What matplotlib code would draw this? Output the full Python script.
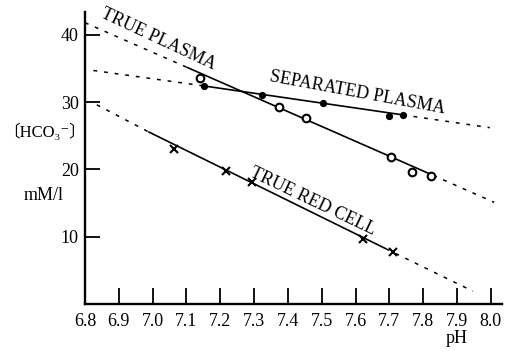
import matplotlib
matplotlib.use("Agg")
import matplotlib.pyplot as plt

# ---- data ----
xticks = [6.8, 6.9, 7.0, 7.1, 7.2, 7.3, 7.4, 7.5, 7.6, 7.7, 7.8, 7.9, 8.0]
xticklabels = ["6.8", "6.9", "7.0", "7.1", "7.2", "7.3", "7.4", "7.5", "7.6", "7.7", "7.8", "7.9", "8.0"]
yticks = [10, 20, 30, 40]

# true plasma (open circles)
tp_ph = [7.14, 7.373, 7.453, 7.705, 7.767, 7.823]
tp_val = [33.6, 29.3, 27.7, 21.8, 19.6, 19.0]
tp_line_ph = [6.80, 7.10, 7.83, 8.01]
tp_line_val = [41.8, 35.2, 19.1, 15.1]

# separated plasma (filled dots)
sp_ph = [7.152, 7.323, 7.503, 7.70, 7.74]
sp_val = [32.4, 31.1, 29.9, 28.0, 28.1]
sp_line_ph = [6.825, 7.152, 7.74, 7.997]
sp_line_val = [34.7, 32.4, 28.1, 26.2]

# true red cell (crosses)
rc_ph = [7.063, 7.217, 7.294, 7.622, 7.71]
rc_val = [23.1, 19.7, 18.2, 9.6, 7.7]
rc_line_ph = [6.835, 6.987, 7.69, 7.947]
rc_line_val = [29.6, 25.6, 8.2, 1.9]

SERIF = ["Liberation Serif", "DejaVu Serif", "Noto Sans CJK JP"]
plt.rcParams["font.family"] = SERIF

fig = plt.figure(figsize=(5.17, 3.51), dpi=100)
ax = fig.add_axes([0.1644, 0.134, 0.8066, 0.832])

dash = (0, (2.5, 4.5))


def draw_fit(phs, vals):
    ax.plot(phs[0:2], vals[0:2], color="black", lw=1.1, linestyle=dash)
    ax.plot(phs[1:3], vals[1:3], color="black", lw=1.2, solid_capstyle="butt")
    ax.plot(phs[2:4], vals[2:4], color="black", lw=1.1, linestyle=dash)


draw_fit(tp_line_ph, tp_line_val)
draw_fit(sp_line_ph, sp_line_val)
draw_fit(rc_line_ph, rc_line_val)

ax.plot(tp_ph, tp_val, linestyle="none", marker="o", ms=5.5, mfc="white",
        mec="black", mew=1.5)
ax.plot(sp_ph, sp_val, linestyle="none", marker="o", ms=4.2, mfc="black",
        mec="black")
ax.plot(rc_ph, rc_val, linestyle="none", marker="x", ms=6, mec="black",
        mew=1.5)

fs = 13
ax.text(7.016, 39.3, "TRUE PLASMA", rotation=-25, ha="center", va="center",
        fontsize=fs)
ax.text(7.604, 31.4, "SEPARATED PLASMA", rotation=-10.5, ha="center",
        va="center", fontsize=fs)
ax.text(7.474, 15.3, "TRUE RED CELL", rotation=-25.5, ha="center",
        va="center", fontsize=fs)

ax.set_xlim(6.8, 8.033)
ax.set_ylim(0, 43.4)

for s in ["top", "right"]:
    ax.spines[s].set_visible(False)
for s in ["left", "bottom"]:
    ax.spines[s].set_linewidth(1.7)

lfs = 13
ax.set_xticks(xticks)
ax.set_xticklabels(xticklabels, fontsize=lfs)
ax.set_yticks(yticks)
ax.set_yticklabels([str(v) for v in yticks], fontsize=lfs)
ax.tick_params(axis="x", direction="in", length=11.5, width=1.3, pad=6.5)
ax.tick_params(axis="y", direction="in", length=10.5, width=1.3, pad=4.5)

fig.text(0.0855, 0.624, "〔HCO₃⁻〕", ha="center", va="center", fontsize=12)
fig.text(0.085, 0.444, "mM/l", ha="center", va="center", fontsize=lfs)
fig.text(0.884, 0.037, "pH", ha="center", va="center", fontsize=lfs)

fig.savefig("out.png", dpi=100)
